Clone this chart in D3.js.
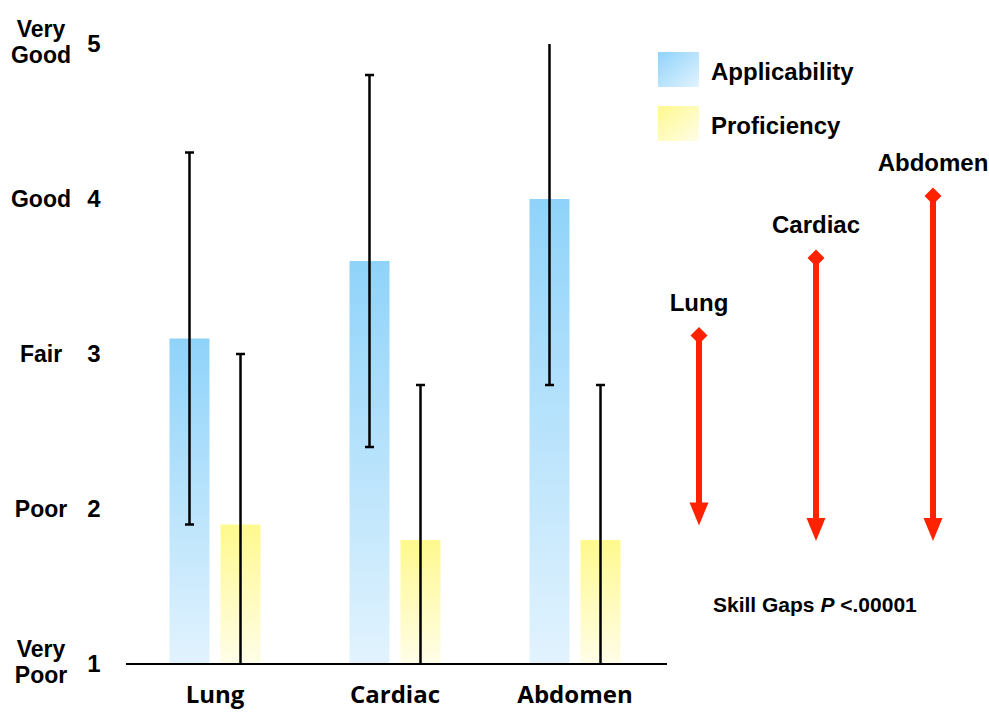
<!DOCTYPE html>
<html>
<head>
<meta charset="utf-8">
<script src="https://cdn.jsdelivr.net/npm/d3@7"></script>
<style>
    body { margin: 0; background: #fff; }
    svg { display: block; }
    text { font-family: "Liberation Sans", Arial, sans-serif; font-weight: bold; fill: #000; }
    .cat { font-family: "Open Sans", sans-serif; font-weight: 700; }
</style>
</head>
<body>
<svg id="chart" width="989" height="712"></svg>
<script>
var categories = ["Lung", "Cardiac", "Abdomen"];
var series = ["Applicability", "Proficiency"];
var applicability = [3.1, 3.6, 4.0];
var applicabilityErr = [1.2, 1.2, 1.2];
var proficiency = [1.9, 1.8, 1.8];
var proficiencyErr = [1.1, 1.0, 1.0];
var yTicks = [1, 2, 3, 4, 5];
var yTickWords = [["Very", "Poor"], ["Poor"], ["Fair"], ["Good"], ["Very", "Good"]];
var pValueText = "<.00001";

var svg = d3.select("#chart");

//scales
var y = d3.scaleLinear().domain([1, 5]).range([664, 44]);
var x0 = d3.scaleBand().domain(categories).range([125, 665]).padding(0);
var x1 = d3.scaleBand().domain(series).range([44.5, 135.5]).paddingInner(0.216);
var xArrow = d3.scalePoint().domain(categories).range([699, 933]);

//gradients
var defs = svg.append("defs");
function grad(id, top, bottom, diag) {
    var g = defs.append("linearGradient").attr("id", id)
        .attr("x1", 0).attr("y1", 0).attr("x2", diag ? 1 : 0).attr("y2", 1);
    g.append("stop").attr("offset", "0%").attr("stop-color", top);
    g.append("stop").attr("offset", "100%").attr("stop-color", bottom);
}
grad("gApp", "#8fd3fa", "#e2f3fe", false);
grad("gProf", "#fff98e", "#fffde8", false);
grad("gAppLeg", "#8fd3fa", "#e2f3fe", true);
grad("gProfLeg", "#fff98e", "#fffde8", true);
var fills = {Applicability: "url(#gApp)", Proficiency: "url(#gProf)"};

var rows = categories.map(function (c, i) {
    return {k: c, values: [
        {s: "Applicability", v: applicability[i], e: applicabilityErr[i]},
        {s: "Proficiency", v: proficiency[i], e: proficiencyErr[i]}
    ]};
});

//bars
var groups = svg.append("g").selectAll("g")
    .data(rows)
    .enter().append("g")
    .attr("transform", function (d) { return "translate(" + x0(d.k) + ",0)"; });

groups.selectAll("rect")
    .data(function (d) { return d.values; })
    .enter().append("rect")
    .attr("x", function (d) { return x1(d.s); })
    .attr("y", function (d) { return y(d.v); })
    .attr("width", x1.bandwidth())
    .attr("height", function (d) { return y(1) - y(d.v); })
    .attr("fill", function (d) { return fills[d.s]; });

//error bars, clipped to the 1..5 range
var err = groups.selectAll("g.err")
    .data(function (d) { return d.values; })
    .enter().append("g").attr("class", "err");

err.each(function (d) {
    var g = d3.select(this);
    var cx = x1(d.s) + x1.bandwidth() / 2;
    var hi = Math.min(5, d.v + d.e), lo = Math.max(1, d.v - d.e);
    g.append("line")
        .attr("x1", cx).attr("x2", cx)
        .attr("y1", y(hi)).attr("y2", y(lo))
        .attr("stroke", "#000").attr("stroke-width", 2.5);
    [[d.v + d.e, hi], [d.v - d.e, lo]].forEach(function (p) {
        if (p[0] == p[1])
            g.append("line")
                .attr("x1", cx - 4.5).attr("x2", cx + 4.5)
                .attr("y1", y(p[1])).attr("y2", y(p[1]))
                .attr("stroke", "#000").attr("stroke-width", 2.5);
    });
});

//baseline
svg.append("line")
    .attr("x1", 126).attr("x2", 667)
    .attr("y1", y(1)).attr("y2", y(1))
    .attr("stroke", "#000").attr("stroke-width", 2);

//y labels
yTicks.forEach(function (t, i) {
    svg.append("text")
        .attr("x", 94).attr("y", y(t) + 8)
        .attr("text-anchor", "middle")
        .style("font-size", "24px")
        .text(t);
    var words = yTickWords[i];
    var t0 = svg.append("text")
        .attr("x", 41)
        .attr("text-anchor", "middle")
        .style("font-size", "23px");
    if (words.length == 1)
        t0.attr("y", y(t) + 8).text(words[0]);
    else
        words.forEach(function (w, j) {
            t0.append("tspan").attr("x", 41).attr("y", y(t) - 7 + j * 26).text(w);
        });
});

//category labels
svg.selectAll("text.cat")
    .data(categories)
    .enter().append("text")
    .attr("class", "cat")
    .attr("x", function (d) { return x0(d) + x0.bandwidth() / 2; })
    .attr("y", 703)
    .attr("text-anchor", "middle")
    .style("font-size", "24px")
    .text(function (d) { return d; });

//legend
var legend = svg.append("g").selectAll("g")
    .data(series)
    .enter().append("g")
    .attr("transform", function (d, i) { return "translate(658," + (52 + i * 54) + ")"; });
legend.append("rect")
    .attr("width", 41).attr("height", 35)
    .attr("fill", function (d, i) { return i == 0 ? "url(#gAppLeg)" : "url(#gProfLeg)"; });
legend.append("text")
    .attr("x", 53).attr("y", 28)
    .style("font-size", "24px")
    .text(function (d) { return d; });

//skill gap arrows
var red = "#ff2200";
var arrows = svg.append("g").selectAll("g")
    .data(rows)
    .enter().append("g");

arrows.each(function (d, i) {
    var g = d3.select(this);
    var cx = xArrow(d.k);
    var top = y(applicability[i]) - 3;
    var tip = y(proficiency[i]) + 1;
    g.append("line")
        .attr("x1", cx).attr("x2", cx)
        .attr("y1", top).attr("y2", tip - 20)
        .attr("stroke", red).attr("stroke-width", 6);
    g.append("path")
        .attr("d", "M" + cx + "," + (top - 8.5) + "l8.5,8.5l-8.5,8.5l-8.5,-8.5z")
        .attr("fill", red);
    g.append("path")
        .attr("d", "M" + (cx - 9.5) + "," + (tip - 23) + "h19l-9.5,23z")
        .attr("fill", red);
    g.append("text")
        .attr("x", cx).attr("y", y(applicability[i]) - 28)
        .attr("text-anchor", "middle")
        .style("font-size", "24px")
        .text(d.k);
});

//p value note
var note = svg.append("text")
    .attr("x", 713).attr("y", 612)
    .style("font-size", "21px");
note.append("tspan").text("Skill Gaps ");
note.append("tspan").style("font-style", "italic").text("P");
note.append("tspan").text(" " + pValueText);
</script>
</body>
</html>
